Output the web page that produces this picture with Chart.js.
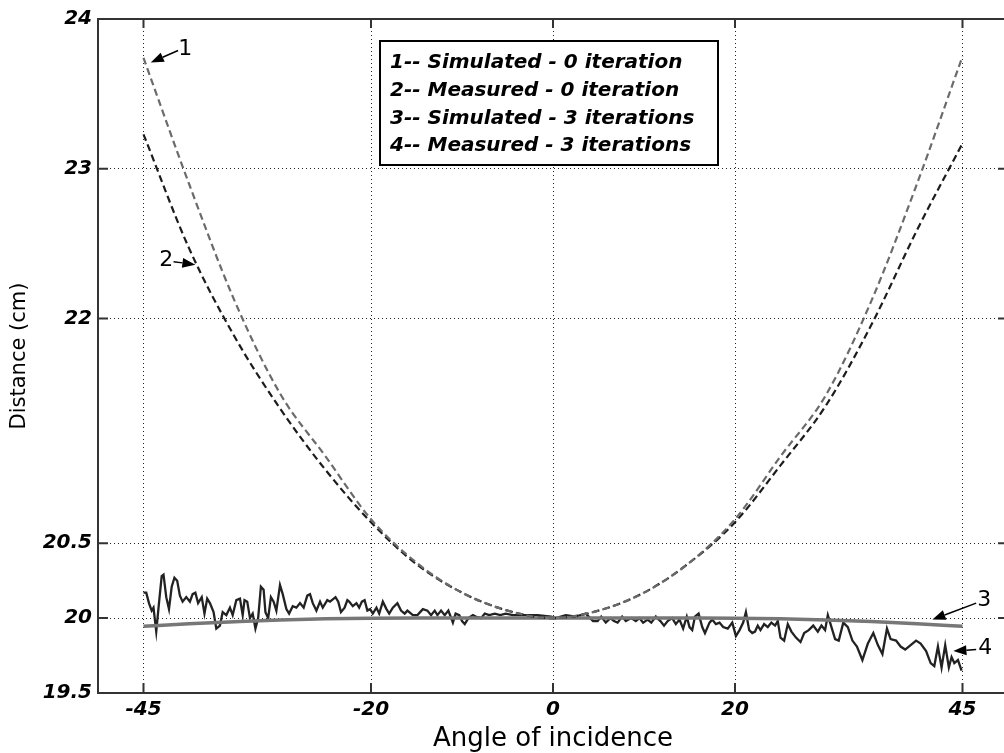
<!DOCTYPE html>
<html>
<head>
<meta charset="utf-8">
<title>Distance vs angle of incidence</title>
<script src="https://cdn.jsdelivr.net/npm/chart.js@4/dist/chart.umd.min.js"></script>
<style>
  html, body { margin: 0; padding: 0; background: #fff; overflow: hidden; }
  #wrap { width: 1024px; height: 753px; }
</style>
</head>
<body>
<div id="wrap"><canvas id="chart" width="1024" height="753"></canvas></div>
<script>
'use strict';

// Axis ticks
var angleTicks = [-45, -20, 0, 20, 45];
var distTicks = [19.5, 20, 20.5, 22, 23, 24];

// Curves 1-3 are sampled every 5 degrees
var angles = [-45, -40, -35, -30, -25, -20, -15, -10, -5, 0, 5, 10, 15, 20, 25, 30, 35, 40, 45];
var simulated0 = [23.74, 22.90, 22.12, 21.50, 21.08, 20.66, 20.37, 20.17, 20.05, 20.00, 20.05, 20.17, 20.37, 20.66, 21.08, 21.49, 22.12, 22.90, 23.75];
var measured0 = [23.23, 22.47, 21.88, 21.40, 20.99, 20.64, 20.36, 20.17, 20.05, 20.00, 20.05, 20.17, 20.37, 20.64, 21.02, 21.42, 21.96, 22.59, 23.17];
var simulated3 = [19.945, 19.962, 19.976, 19.988, 19.995, 19.999, 20.0, 20.0, 20.0, 20.0, 20.0, 20.0, 20.0, 19.999, 19.995, 19.988, 19.978, 19.963, 19.945];

// Measured after 3 iterations (raw scan, uneven spacing)
var measAngles = [
  -45.0, -44.7, -44.4, -44.1, -43.9, -43.6, -43.3, -43.0, -42.8, -42.5, -42.2, -41.9, -41.6, -41.3, -41.0, -40.7,
  -40.3, -39.9, -39.6, -39.3, -39.0, -38.6, -38.3, -38.0, -37.7, -37.3, -37.0, -36.6, -36.3, -35.9, -35.5, -35.2,
  -34.8, -34.4, -34.1, -33.9, -33.6, -33.3, -33.0, -32.7, -32.4, -32.1, -31.8, -31.6, -31.3, -31.0, -30.7, -30.4,
  -30.0, -29.7, -29.3, -29.0, -28.6, -28.2, -27.8, -27.4, -27.0, -26.7, -26.4, -26.0, -25.6, -25.3, -24.8, -24.5,
  -23.9, -23.6, -23.3, -22.9, -22.6, -22.4, -22.0, -21.6, -21.3, -21.0, -20.7, -20.4, -20.1, -19.8, -19.4, -19.1,
  -18.7, -18.3, -18.0, -17.6, -17.1, -16.7, -16.3, -16.0, -15.4, -14.9, -14.3, -13.8, -13.4, -13.0, -12.7, -12.3,
  -11.9, -11.5, -11.0, -10.7, -10.3, -10.0, -9.7, -9.3, -8.8, -8.5, -7.9, -7.5, -7.0, -6.4, -5.8, -5.2,
  -4.4, -3.5, -2.6, -1.7, -0.2, 0.3, 1.4, 2.5, 3.6, 4.4, 4.9, 5.3, 5.8, 6.3, 6.7, 7.1,
  7.6, 8.0, 8.6, 9.1, 9.5, 9.9, 10.4, 10.8, 11.3, 11.8, 12.2, 12.6, 13.1, 13.5, 13.9, 14.3,
  14.7, 15.0, 15.3, 15.6, 16.0, 16.4, 16.7, 17.2, 17.5, 17.9, 18.3, 18.7, 19.2, 19.7, 20.1, 20.5,
  20.9, 21.2, 21.56, 21.9, 22.2, 22.5, 22.8, 23.2, 23.6, 24.0, 24.4, 24.7, 25.0, 25.4, 25.8, 26.2,
  26.7, 27.2, 27.6, 28.1, 28.6, 29.1, 29.5, 29.9, 30.2, 30.5, 31.0, 31.4, 31.9, 32.4, 32.9, 33.4,
  34.0, 34.6, 35.2, 35.7, 36.2, 36.7, 37.1, 37.7, 38.2, 38.7, 39.3, 39.9, 40.4, 41.0, 41.5, 41.9,
  42.3, 42.7, 43.1, 43.5, 43.8, 44.1, 44.5, 44.9
];
var measured3 = [
  20.17, 20.17, 20.10, 20.05, 20.07, 19.91, 20.10, 20.28, 20.29, 20.14, 20.06, 20.21, 20.27, 20.25, 20.15, 20.11,
  20.14, 20.11, 20.16, 20.17, 20.10, 20.14, 20.03, 20.13, 20.10, 20.04, 19.93, 19.95, 20.04, 20.02, 20.07, 20.02,
  20.12, 20.13, 20.02, 20.12, 20.11, 20.00, 20.03, 19.93, 20.00, 20.21, 20.19, 20.04, 20.00, 20.14, 20.11, 20.05,
  20.22, 20.16, 20.06, 20.03, 20.08, 20.07, 20.10, 20.07, 20.15, 20.16, 20.10, 20.05, 20.11, 20.07, 20.12, 20.11,
  20.14, 20.11, 20.04, 20.07, 20.12, 20.11, 20.08, 20.10, 20.07, 20.11, 20.12, 20.05, 20.06, 20.03, 20.07, 20.03,
  20.11, 20.06, 20.03, 20.07, 20.10, 20.05, 20.03, 20.05, 20.02, 20.02, 20.06, 20.05, 20.02, 20.05, 20.02, 20.05,
  20.02, 20.05, 19.97, 20.03, 20.02, 19.98, 19.96, 20.00, 20.02, 20.01, 20.00, 20.03, 20.02, 20.03, 20.02, 20.03,
  20.02, 20.02, 20.02, 20.02, 20.01, 20.00, 20.02, 20.01, 20.03, 19.98, 19.98, 20.01, 19.97, 20.00, 19.98, 19.97,
  20.01, 19.98, 20.00, 19.98, 20.00, 19.97, 19.99, 19.97, 20.01, 19.98, 19.95, 19.98, 20.00, 19.96, 19.99, 19.93,
  20.01, 19.94, 19.92, 20.01, 20.03, 19.94, 19.90, 19.97, 19.99, 19.96, 19.97, 19.94, 19.93, 19.97, 19.88, 19.92,
  19.97, 20.04, 19.92, 19.90, 19.91, 19.95, 19.92, 19.96, 19.94, 19.97, 19.95, 19.98, 19.87, 19.85, 19.96, 19.91,
  19.87, 19.84, 19.90, 19.92, 19.95, 19.91, 19.95, 19.92, 20.02, 19.96, 19.86, 19.85, 19.97, 19.94, 19.85, 19.81,
  19.72, 19.83, 19.90, 19.82, 19.76, 19.93, 19.86, 19.85, 19.81, 19.79, 19.82, 19.85, 19.83, 19.78, 19.70, 19.68,
  19.81, 19.67, 19.82, 19.67, 19.74, 19.70, 19.72, 19.65
];

var legendLines = [
  '1-- Simulated - 0 iteration',
  '2-- Measured - 0 iteration',
  '3-- Simulated - 3 iterations',
  '4-- Measured - 3 iterations'
];

function pairs(xs, ys) {
  return xs.map(function(v, i) { return { x: v, y: ys[i] }; });
}

// Numbered pointers: text spot, arrow tail and arrow tip, in data units
var callouts = [
  { label: '1', text: [-40.4, 23.80], from: [-41.2, 23.79], to: [-44.2, 23.71] },
  { label: '2', text: [-42.5, 22.39], from: [-41.7, 22.38], to: [-39.3, 22.36] },
  { label: '3', text: [47.4, 20.12], from: [46.5, 20.10], to: [41.7, 19.99] },
  { label: '4', text: [47.5, 19.80], from: [46.5, 19.79], to: [44.0, 19.78] }
];

var tickFont = { family: 'DejaVu Sans', size: 20, weight: 'bold', style: 'italic' };

// Box, inward tick marks, legend box and numbered arrows
var overlay = {
  id: 'overlay',
  afterDraw: function(chart) {
    var ctx = chart.ctx, a = chart.chartArea;
    var xs = chart.scales.x, ys = chart.scales.y;
    ctx.save();

    ctx.strokeStyle = '#333';
    ctx.lineWidth = 2;
    ctx.strokeRect(a.left, a.top, a.right - a.left, a.bottom - a.top);
    ctx.beginPath();
    angleTicks.forEach(function(v) {
      var px = xs.getPixelForValue(v);
      ctx.moveTo(px, a.bottom); ctx.lineTo(px, a.bottom - 10);
      ctx.moveTo(px, a.top); ctx.lineTo(px, a.top + 9);
    });
    distTicks.forEach(function(v) {
      var py = ys.getPixelForValue(v);
      ctx.moveTo(a.left, py); ctx.lineTo(a.left + 10, py);
      ctx.moveTo(a.right, py); ctx.lineTo(a.right - 10, py);
    });
    ctx.stroke();

    // legend
    var bx = a.left + 282, by = a.top + 22, bw = 338, bh = 124;
    ctx.fillStyle = '#fff';
    ctx.fillRect(bx, by, bw, bh);
    ctx.strokeStyle = '#000';
    ctx.lineWidth = 2;
    ctx.strokeRect(bx, by, bw, bh);
    ctx.fillStyle = '#000';
    ctx.font = 'italic bold 20px "DejaVu Sans"';
    ctx.textAlign = 'left';
    ctx.textBaseline = 'alphabetic';
    legendLines.forEach(function(t, i) {
      ctx.fillText(t, bx + 10, by + 27 + i * 27.8);
    });

    // pointers
    ctx.font = '22px "DejaVu Sans"';
    ctx.textAlign = 'center';
    ctx.textBaseline = 'middle';
    callouts.forEach(function(c) {
      var x0 = xs.getPixelForValue(c.from[0]), y0 = ys.getPixelForValue(c.from[1]);
      var x1 = xs.getPixelForValue(c.to[0]), y1 = ys.getPixelForValue(c.to[1]);
      var ang = Math.atan2(y1 - y0, x1 - x0);
      var len = 13, half = 5;
      ctx.strokeStyle = '#000';
      ctx.lineWidth = 1.5;
      ctx.beginPath();
      ctx.moveTo(x0, y0);
      ctx.lineTo(x1 - Math.cos(ang) * len, y1 - Math.sin(ang) * len);
      ctx.stroke();
      ctx.beginPath();
      ctx.moveTo(x1, y1);
      ctx.lineTo(x1 - Math.cos(ang) * len - Math.sin(ang) * half, y1 - Math.sin(ang) * len + Math.cos(ang) * half);
      ctx.lineTo(x1 - Math.cos(ang) * len + Math.sin(ang) * half, y1 - Math.sin(ang) * len - Math.cos(ang) * half);
      ctx.closePath();
      ctx.fill();
      ctx.fillText(c.label, xs.getPixelForValue(c.text[0]), ys.getPixelForValue(c.text[1]));
    });

    ctx.restore();
  }
};

new Chart(document.getElementById('chart'), {
  type: 'line',
  data: {
    datasets: [
      {
        label: 'Simulated - 0 iteration',
        data: pairs(angles, simulated0),
        borderColor: '#6b6b6b',
        borderWidth: 2.2,
        borderDash: [7, 4],
        cubicInterpolationMode: 'monotone',
        pointRadius: 0
      },
      {
        label: 'Measured - 0 iteration',
        data: pairs(angles, measured0),
        borderColor: '#1c1c1c',
        borderWidth: 2.2,
        borderDash: [7, 4],
        cubicInterpolationMode: 'monotone',
        pointRadius: 0
      },
      {
        label: 'Simulated - 3 iterations',
        data: pairs(angles, simulated3),
        borderColor: '#777',
        borderWidth: 3.5,
        cubicInterpolationMode: 'monotone',
        pointRadius: 0
      },
      {
        label: 'Measured - 3 iterations',
        data: pairs(measAngles, measured3),
        borderColor: '#222',
        borderWidth: 2.3,
        tension: 0,
        pointRadius: 0
      }
    ]
  },
  options: {
    responsive: false,
    animation: false,
    layout: { padding: { top: 19, right: 16, left: 0, bottom: 0 } },
    plugins: {
      legend: { display: false },
      tooltip: { enabled: false }
    },
    scales: {
      x: {
        type: 'linear',
        min: -50,
        max: 50,
        afterBuildTicks: function(s) { s.ticks = angleTicks.map(function(v) { return { value: v }; }); },
        afterFit: function(s) { s.height = 60; },
        grid: { color: '#222', lineWidth: 1, drawTicks: false },
        border: { display: false, dash: [1, 3] },
        ticks: {
          color: '#000',
          font: tickFont,
          padding: 5,
          maxRotation: 0,
          callback: function(v) { return String(v); }
        },
        title: {
          display: true,
          text: 'Angle of incidence',
          color: '#000',
          font: { family: 'DejaVu Sans', size: 26 },
          padding: { top: 0, bottom: -2 }
        }
      },
      y: {
        min: 19.5,
        max: 24,
        afterBuildTicks: function(s) { s.ticks = distTicks.map(function(v) { return { value: v }; }); },
        afterFit: function(s) { s.width = 98; },
        grid: { color: '#222', lineWidth: 1, drawTicks: false },
        border: { display: false, dash: [1, 3] },
        ticks: {
          color: '#000',
          font: tickFont,
          padding: 6,
          callback: function(v) { return String(v); }
        },
        title: {
          display: true,
          text: 'Distance (cm)',
          color: '#000',
          font: { family: 'DejaVu Sans', size: 21 },
          padding: { top: 7, bottom: 0 }
        }
      }
    }
  },
  plugins: [overlay]
});
</script>
</body>
</html>
